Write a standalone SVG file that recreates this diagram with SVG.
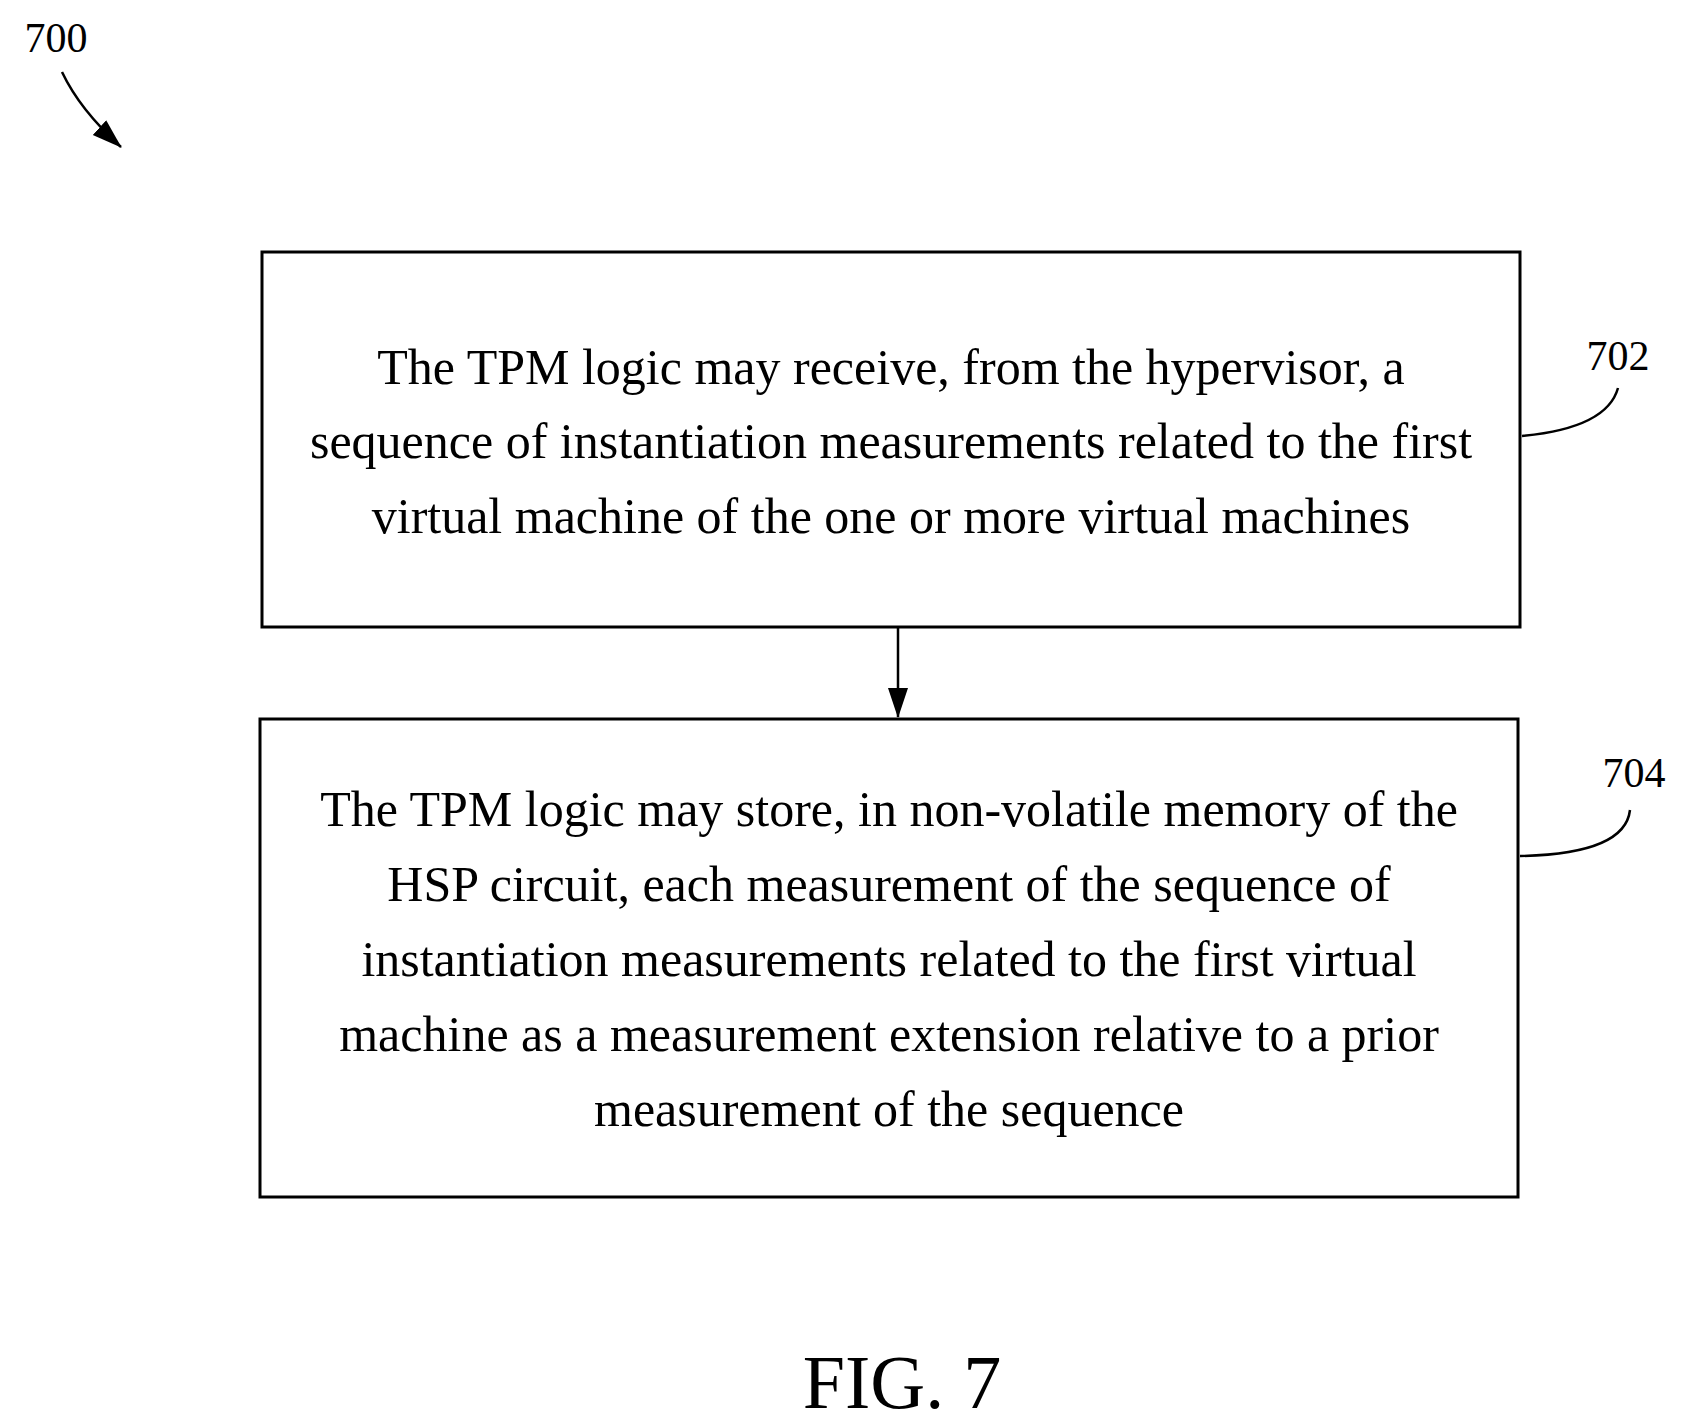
<svg xmlns="http://www.w3.org/2000/svg" width="1688" height="1428" viewBox="0 0 1688 1428">
<style>
text{font-family:"Liberation Serif","Times New Roman",serif;fill:#000}
.b{font-size:50px;text-anchor:middle}
.l{font-size:42px;text-anchor:middle}
.box{fill:#fff;stroke:#000;stroke-width:3}
.ln{fill:none;stroke:#000;stroke-width:2.5}
</style>
<defs>
<marker id="ah2" markerWidth="30" markerHeight="30" refX="29" refY="15" orient="auto" markerUnits="userSpaceOnUse" viewBox="0 0 30 30"><path d="M0,5 L30,15 L0,25 z" fill="#000"/></marker></defs>
<rect width="1688" height="1428" fill="#fff"/>
<g id="label700"><text x="56" y="52" class="l">700</text></g>
<g id="n702">
<rect class="box" x="262" y="252" width="1258" height="375"/>
<text class="b" x="891" y="384">The TPM logic may receive, from the hypervisor, a</text>
<text class="b" x="891" y="458">sequence of instantiation measurements related to the first</text>
<text class="b" x="891" y="533">virtual machine of the one or more virtual machines</text>
<text class="l" x="1618" y="370">702</text>
</g>
<g id="n704">
<rect class="box" x="260" y="719" width="1258" height="478"/>
<text class="b" x="889" y="826">The TPM logic may store, in non-volatile memory of the</text>
<text class="b" x="889" y="901">HSP circuit, each measurement of the sequence of</text>
<text class="b" x="889" y="976">instantiation measurements related to the first virtual</text>
<text class="b" x="889" y="1051">machine as a measurement extension relative to a prior</text>
<text class="b" x="889" y="1126">measurement of the sequence</text>
<text class="l" x="1634" y="787">704</text>
</g>
<g id="connectors">
<path class="ln" d="M62,72 Q80,110 121,147" marker-end="url(#ah2)"/>
<path class="ln" d="M898,627 L898,717" stroke-width="3" marker-end="url(#ah2)"/>
<path class="ln" d="M1522,436 Q1607,428 1618,388"/>
<path class="ln" d="M1520,856 Q1625,854 1630,810"/>
</g>
<text x="902" y="1408" style="font-size:76px;text-anchor:middle">FIG. 7</text>
</svg>
